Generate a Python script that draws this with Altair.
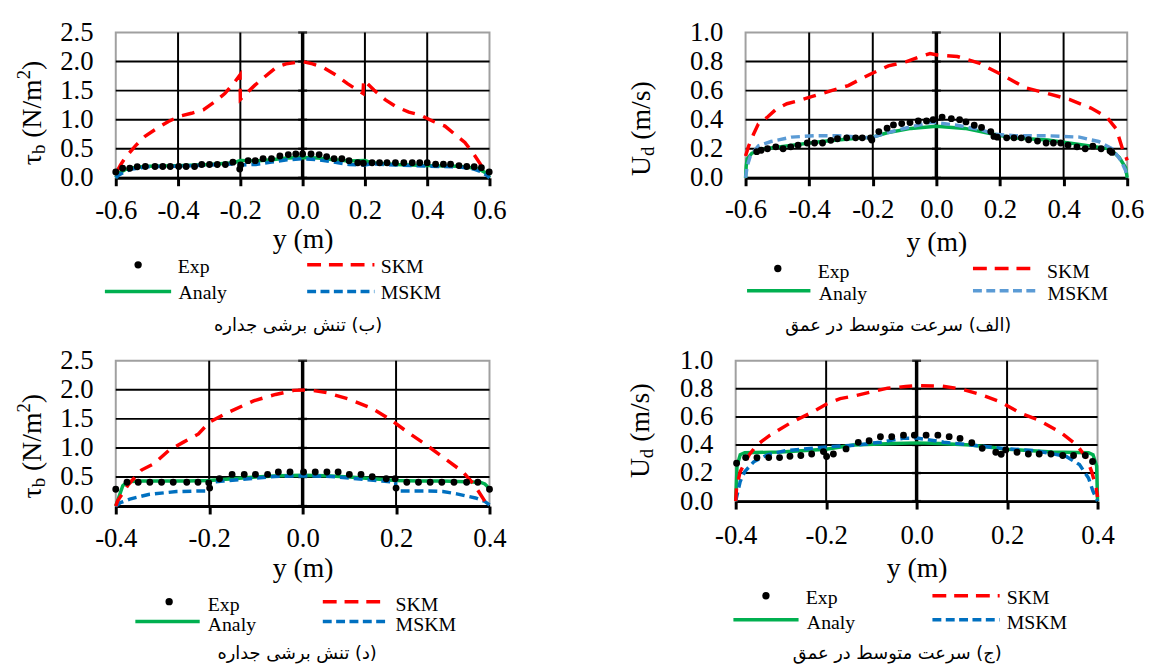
import altair as alt
import pandas as pd

SERIF = "Liberation Serif"
ARABIC = "DejaVu Sans"

RED = "#FF0000"
GREEN = "#00B050"

# ---------------- Panel (ب): wall shear stress, 1.2 m wide ----------------
a_exp_y = [-0.600, -0.578, -0.555, -0.531, -0.505, -0.474, -0.449, -0.425, -0.398, -0.374,
           -0.347, -0.324, -0.299, -0.274, -0.248, -0.224, -0.202, -0.199, -0.175, -0.152,
           -0.127, -0.100, -0.073, -0.046, -0.022, 0.000, 0.027, 0.053, 0.077, 0.101,
           0.126, 0.149, 0.177, 0.195, 0.223, 0.247, 0.271, 0.298, 0.325, 0.352,
           0.376, 0.400, 0.427, 0.452, 0.475, 0.502, 0.527, 0.551, 0.574, 0.599]
a_exp_v = [0.10, 0.165, 0.165, 0.19, 0.195, 0.195, 0.195, 0.195, 0.195, 0.195,
           0.195, 0.23, 0.23, 0.23, 0.23, 0.27, 0.15, 0.22, 0.295, 0.295,
           0.33, 0.33, 0.375, 0.40, 0.41, 0.41, 0.41, 0.40, 0.365, 0.33,
           0.33, 0.295, 0.26, 0.25, 0.26, 0.26, 0.26, 0.26, 0.26, 0.26,
           0.26, 0.26, 0.235, 0.235, 0.235, 0.21, 0.195, 0.19, 0.175, 0.10]
a_skm_y = [-0.595, -0.585, -0.569, -0.537, -0.505, -0.474, -0.431, -0.394, -0.357, -0.319,
           -0.282, -0.250, -0.218, -0.201, -0.200, -0.154, -0.128, -0.085, -0.053, 0.000,
           0.032, 0.069, 0.106, 0.144, 0.176, 0.194, 0.196, 0.229, 0.266, 0.298,
           0.341, 0.378, 0.420, 0.457, 0.495, 0.521, 0.553, 0.574, 0.595]
a_skm_v = [0.12, 0.22, 0.35, 0.55, 0.72, 0.83, 0.97, 1.06, 1.11, 1.17,
           1.31, 1.45, 1.65, 1.77, 1.35, 1.59, 1.71, 1.90, 1.96, 2.00,
           1.96, 1.89, 1.77, 1.62, 1.51, 1.45, 1.68, 1.51, 1.34, 1.23,
           1.13, 1.08, 0.97, 0.89, 0.72, 0.61, 0.38, 0.21, 0.10]
a_ana_y = [-0.600, -0.590, -0.570, -0.550, -0.500, -0.400, -0.300, -0.220, -0.200, -0.150,
           -0.100, -0.050, 0.000, 0.050, 0.100, 0.150, 0.200, 0.220, 0.300, 0.400,
           0.500, 0.550, 0.570, 0.590, 0.600]
a_ana_v = [0.00, 0.08, 0.14, 0.17, 0.20, 0.21, 0.23, 0.26, 0.30, 0.29,
           0.31, 0.34, 0.35, 0.34, 0.31, 0.29, 0.30, 0.26, 0.23, 0.21,
           0.20, 0.17, 0.14, 0.08, 0.00]
a_msk_y = a_ana_y
a_msk_v = [0.00, 0.05, 0.11, 0.15, 0.19, 0.20, 0.22, 0.24, 0.22, 0.23,
           0.27, 0.31, 0.33, 0.31, 0.27, 0.23, 0.22, 0.24, 0.22, 0.20,
           0.19, 0.15, 0.11, 0.05, 0.00]

# ---------------- Panel (الف): depth-averaged velocity, 1.2 m wide ----------------
b_exp_y = [-0.565, -0.551, -0.531, -0.505, -0.482, -0.458, -0.435, -0.406, -0.383, -0.358,
           -0.332, -0.311, -0.282, -0.254, -0.233, -0.207, -0.203, -0.181, -0.155, -0.135,
           -0.109, -0.083, -0.057, -0.031, -0.010, 0.018, 0.047, 0.073, 0.093, 0.119,
           0.142, 0.171, 0.181, 0.192, 0.221, 0.244, 0.267, 0.290, 0.318, 0.345,
           0.368, 0.391, 0.414, 0.442, 0.468, 0.492, 0.518, 0.546, 0.552]
b_exp_v = [0.18, 0.19, 0.20, 0.213, 0.20, 0.213, 0.225, 0.24, 0.24, 0.24,
           0.258, 0.269, 0.275, 0.275, 0.275, 0.275, 0.26, 0.318, 0.342, 0.364,
           0.373, 0.38, 0.391, 0.391, 0.40, 0.418, 0.407, 0.40, 0.385, 0.362,
           0.347, 0.318, 0.285, 0.28, 0.275, 0.275, 0.275, 0.262, 0.253, 0.24,
           0.24, 0.24, 0.225, 0.213, 0.20, 0.218, 0.20, 0.185, 0.175]
b_skm_y = [-0.600, -0.590, -0.575, -0.560, -0.530, -0.505, -0.470, -0.435, -0.390, -0.330,
           -0.277, -0.208, -0.151, -0.094, -0.049, -0.020, 0.003, 0.020, 0.066, 0.134,
           0.202, 0.280, 0.350, 0.418, 0.486, 0.535, 0.566, 0.585, 0.595, 0.600]
b_skm_v = [0.15, 0.22, 0.30, 0.37, 0.42, 0.47, 0.51, 0.53, 0.56, 0.60,
           0.635, 0.713, 0.77, 0.80, 0.835, 0.855, 0.845, 0.842, 0.835, 0.79,
           0.713, 0.62, 0.58, 0.54, 0.48, 0.42, 0.335, 0.20, 0.15, 0.12]
b_ana_y = [-0.600, -0.598, -0.595, -0.580, -0.540, -0.470, -0.360, -0.260, -0.200, -0.155,
           -0.080, 0.000, 0.090, 0.180, 0.240, 0.350, 0.450, 0.545, 0.575, 0.595, 0.600]
b_ana_v = [0.00, 0.08, 0.13, 0.17, 0.20, 0.22, 0.25, 0.27, 0.28, 0.31,
           0.34, 0.355, 0.34, 0.30, 0.275, 0.26, 0.23, 0.20, 0.14, 0.07, 0.00]
b_msk_y = [-0.600, -0.595, -0.585, -0.560, -0.520, -0.456, -0.380, -0.310, -0.260, -0.207,
           -0.155, -0.083, -0.020, 0.000, 0.070, 0.140, 0.185, 0.244, 0.345, 0.450,
           0.510, 0.553, 0.580, 0.595, 0.600]
b_msk_v = [0.00, 0.08, 0.15, 0.22, 0.25, 0.28, 0.29, 0.29, 0.283, 0.275,
           0.31, 0.35, 0.38, 0.38, 0.36, 0.33, 0.30, 0.29, 0.29, 0.28,
           0.25, 0.20, 0.12, 0.05, 0.00]

# ---------------- Panel (د): wall shear stress, 0.8 m wide ----------------
c_exp_y = [-0.400, -0.376, -0.352, -0.327, -0.302, -0.277, -0.248, -0.224, -0.201, -0.199,
           -0.178, -0.151, -0.125, -0.101, -0.075, -0.052, -0.027, 0.002, 0.027, 0.052,
           0.076, 0.100, 0.125, 0.149, 0.179, 0.198, 0.200, 0.223, 0.248, 0.273,
           0.298, 0.324, 0.351, 0.375, 0.400]
c_exp_v = [0.29, 0.41, 0.41, 0.41, 0.41, 0.41, 0.41, 0.41, 0.40, 0.31,
           0.47, 0.545, 0.545, 0.545, 0.545, 0.586, 0.586, 0.586, 0.586, 0.586,
           0.586, 0.545, 0.545, 0.505, 0.47, 0.47, 0.31, 0.41, 0.41, 0.41,
           0.41, 0.41, 0.41, 0.41, 0.29]
c_skm_y = [-0.400, -0.396, -0.373, -0.345, -0.318, -0.286, -0.255, -0.223, -0.200, -0.160,
           -0.105, -0.058, -0.019, 0.013, 0.052, 0.099, 0.146, 0.186, 0.225, 0.265,
           0.304, 0.343, 0.367, 0.390, 0.400]
c_skm_v = [0.00, 0.09, 0.37, 0.62, 0.73, 0.96, 1.10, 1.24, 1.44, 1.61,
           1.81, 1.92, 1.99, 2.00, 1.95, 1.84, 1.69, 1.50, 1.27, 1.05,
           0.82, 0.59, 0.37, 0.085, 0.00]
c_ana_y = [-0.400, -0.385, -0.375, -0.350, -0.300, -0.250, -0.200, -0.150, -0.100, -0.050,
           0.000, 0.050, 0.100, 0.150, 0.200, 0.250, 0.300, 0.350, 0.380, 0.390, 0.400]
c_ana_v = [0.00, 0.35, 0.42, 0.43, 0.43, 0.43, 0.44, 0.47, 0.50, 0.52,
           0.53, 0.52, 0.50, 0.47, 0.44, 0.43, 0.43, 0.42, 0.41, 0.38, 0.30]
c_msk_y = [-0.400, -0.390, -0.370, -0.330, -0.270, -0.220, -0.200, -0.199, -0.170, -0.130,
           -0.060, 0.000, 0.060, 0.130, 0.170, 0.199, 0.200, 0.220, 0.270, 0.300,
           0.330, 0.370, 0.390, 0.400]
c_msk_v = [0.00, 0.06, 0.12, 0.20, 0.25, 0.26, 0.26, 0.41, 0.43, 0.46,
           0.51, 0.52, 0.51, 0.46, 0.43, 0.41, 0.26, 0.26, 0.26, 0.25,
           0.21, 0.14, 0.08, 0.02]

# ---------------- Panel (ج): depth-averaged velocity, 0.8 m wide ----------------
d_exp_y = [-0.398, -0.378, -0.353, -0.327, -0.303, -0.280, -0.256, -0.232, -0.206, -0.199,
           -0.184, -0.156, -0.129, -0.105, -0.080, -0.055, -0.029, -0.005, 0.021, 0.047,
           0.072, 0.096, 0.122, 0.145, 0.175, 0.187, 0.197, 0.222, 0.247, 0.271,
           0.297, 0.323, 0.347, 0.373, 0.389]
d_exp_v = [0.27, 0.31, 0.31, 0.31, 0.31, 0.32, 0.325, 0.336, 0.353, 0.318,
           0.336, 0.372, 0.419, 0.43, 0.459, 0.459, 0.47, 0.47, 0.47, 0.47,
           0.459, 0.447, 0.416, 0.376, 0.348, 0.334, 0.365, 0.348, 0.336, 0.336,
           0.336, 0.325, 0.325, 0.325, 0.282]
d_skm_y = [-0.400, -0.398, -0.390, -0.370, -0.353, -0.324, -0.280, -0.230, -0.200, -0.169,
           -0.136, -0.104, -0.064, -0.024, 0.004, 0.057, 0.097, 0.137, 0.186, 0.230,
           0.270, 0.318, 0.354, 0.376, 0.387, 0.397, 0.400]
d_skm_v = [0.00, 0.10, 0.21, 0.33, 0.40, 0.47, 0.555, 0.635, 0.69, 0.73,
           0.75, 0.775, 0.805, 0.816, 0.823, 0.819, 0.80, 0.764, 0.706, 0.625,
           0.577, 0.49, 0.40, 0.306, 0.21, 0.094, 0.03]
d_ana_y = [-0.400, -0.397, -0.390, -0.380, -0.300, -0.200, -0.140, -0.050, 0.000, 0.050,
           0.120, 0.200, 0.300, 0.380, 0.390, 0.398, 0.400]
d_ana_v = [0.00, 0.25, 0.33, 0.345, 0.35, 0.37, 0.40, 0.41, 0.415, 0.41,
           0.40, 0.37, 0.35, 0.345, 0.33, 0.25, 0.00]
d_msk_y = [-0.400, -0.390, -0.380, -0.360, -0.330, -0.290, -0.230, -0.185, -0.130, -0.080,
           -0.030, 0.000, 0.060, 0.120, 0.190, 0.260, 0.330, 0.360, 0.380, 0.390, 0.400]
d_msk_v = [0.00, 0.14, 0.21, 0.28, 0.33, 0.36, 0.376, 0.39, 0.40, 0.42,
           0.447, 0.45, 0.42, 0.40, 0.376, 0.36, 0.32, 0.26, 0.165, 0.07, 0.00]

# ---------------- tick labels / texts ----------------
xticks_12 = [-0.6, -0.4, -0.2, 0.0, 0.2, 0.4, 0.6]
xticks_08 = [-0.4, -0.2, 0.0, 0.2, 0.4]
yticks_tau = [0.0, 0.5, 1.0, 1.5, 2.0, 2.5]
yticks_u = [0.0, 0.2, 0.4, 0.6, 0.8, 1.0]
legend_names = ["Exp", "SKM", "Analy", "MSKM"]
RLM = "\u200f"
cap_a = RLM + "(ب) تنش برشی جداره"
cap_b = RLM + "(الف) سرعت متوسط در عمق"
cap_c = RLM + "(د) تنش برشی جداره"
cap_d = RLM + "(ج) سرعت متوسط در عمق"

ONE = alt.Data(values=[{"k": 0}])


def txt(s, x, y, size, align="left", angle=0, dx=0, dy=0, font=SERIF):
    return alt.Chart(ONE).mark_text(
        text=s, font=font, fontSize=size, align=align, baseline="middle",
        angle=angle, dx=dx, dy=dy, color="black"
    ).encode(x=alt.value(x), y=alt.value(y))


def seg(x1, x2, y, color, width, dash=None):
    kw = dict(color=color, strokeWidth=width)
    if dash:
        kw["strokeDash"] = dash
    return alt.Chart(ONE).mark_rule(**kw).encode(
        x=alt.value(x1), x2=alt.value(x2), y=alt.value(y))


def panel(p):
    xs = alt.Scale(domain=p["xdom"], nice=False, zero=False)
    ys = alt.Scale(domain=p["ydom"], nice=False, zero=False)
    xaxis = alt.Axis(
        values=p["xticks"],
        labelExpr="(datum.value < 0 ? '-' : '') + format(abs(datum.value), '.1f')",
        title="y (m)", titleFont=SERIF, titleFontSize=28, titleFontWeight="normal",
        titleColor="black", titlePadding=p["tp"],
        labelFont=SERIF, labelFontSize=27, labelColor="black", labelPadding=p["lp"],
        labelFlush=False, labelOverlap=False,
        domainColor="black", domainWidth=3, tickColor="black", tickWidth=3, tickSize=8,
        grid=False)
    yaxis = alt.Axis(
        values=p["yticks"], format=".1f", title=None, ticks=False, domain=False, grid=False,
        labelFont=SERIF, labelFontSize=27, labelColor="black", labelPadding=23,
        labelFlush=False, labelOverlap=False)
    X = lambda f: alt.X(f, scale=xs, axis=xaxis)
    Y = lambda f: alt.Y(f, scale=ys, axis=yaxis)

    xgrid = [t for t in p["xticks"] if abs(t) > 1e-9 and abs(t) < p["xdom"][1] - 1e-9]
    ygrid = [t for t in p["yticks"] if t > 1e-9 and t < p["ydom"][1] - 1e-9]

    layers = [
        alt.Chart(pd.DataFrame({"y": xgrid})).mark_rule(color="black", strokeWidth=2)
        .encode(x=X("y:Q")),
        alt.Chart(pd.DataFrame({"v": ygrid})).mark_rule(color="black", strokeWidth=2)
        .encode(y=Y("v:Q")),
        alt.Chart(pd.DataFrame({"y": [0.0]})).mark_rule(color="black", strokeWidth=3.5)
        .encode(x=X("y:Q")),
        alt.Chart(pd.DataFrame({"y": [0.0] * len(p["yticks"]), "v": p["yticks"]}))
        .mark_tick(orient="horizontal", color="black", size=9, thickness=2.5)
        .encode(x=X("y:Q"), y=Y("v:Q")),
    ]

    def line(yy, vv, color, width, dash=None):
        kw = dict(color=color, strokeWidth=width)
        if dash:
            kw["strokeDash"] = dash
        df = pd.DataFrame({"y": yy, "v": vv, "i": list(range(len(yy)))})
        return alt.Chart(df).mark_line(**kw).encode(x=X("y:Q"), y=Y("v:Q"), order="i:Q")

    layers.append(line(*p["ana"], GREEN, 3.5))
    layers.append(line(*p["msk"], p["blue"], 3.5, [9, 5]))
    layers.append(line(*p["skm"], RED, 3.5, [13, 9]))
    exp_df = pd.DataFrame({"y": p["exp"][0], "v": p["exp"][1]})
    layers.append(alt.Chart(exp_df).mark_circle(color="black", size=48, opacity=1)
                  .encode(x=X("y:Q"), y=Y("v:Q")))

    # legend (drawn below the plot)
    L = p["leg"]
    layers.append(alt.Chart(ONE).mark_circle(color="black", size=55, opacity=1)
                  .encode(x=alt.value(L["dot"][0]), y=alt.value(L["dot"][1])))
    layers.append(txt(legend_names[0], L["exp_t"][0], L["exp_t"][1], 20))
    layers.append(seg(L["skm"][0], L["skm"][1], L["skm"][2], RED, 3.5, [14, 8]))
    layers.append(txt(legend_names[1], L["skm_t"][0], L["skm_t"][1], 20))
    layers.append(seg(L["ana"][0], L["ana"][1], L["ana"][2], GREEN, 3.5))
    layers.append(txt(legend_names[2], L["ana_t"][0], L["ana_t"][1], 20))
    layers.append(seg(L["msk"][0], L["msk"][1], L["msk"][2], p["blue"], 3.5, [9, 4.5]))
    layers.append(txt(legend_names[3], L["msk_t"][0], L["msk_t"][1], 20))
    layers.append(txt(p["cap"], L["cap"][0], L["cap"][1], 18, align="center", font=ARABIC))

    # rotated y-axis title with sub/superscripts
    tx, ty = p["tx"], p["ty"]
    if p["kind"] == "tau":
        layers += [
            txt("τ", tx, ty, 28, align="right", angle=270),
            txt("b", tx, ty, 19, align="left", angle=270, dy=6),
            txt("(N/m", tx, ty, 28, align="left", angle=270, dx=16.5),
            txt("2", tx, ty, 19, align="left", angle=270, dx=75.6, dy=-9),
            txt(")", tx, ty, 28, align="left", angle=270, dx=85.1),
        ]
    else:
        layers += [
            txt("U", tx, ty, 28, align="right", angle=270),
            txt("d", tx, ty, 19, align="left", angle=270, dy=6),
            txt("(m/s)", tx, ty, 28, align="left", angle=270, dx=16.5),
        ]
    return alt.layer(*layers).properties(width=p["w"], height=p["h"])


PA = dict(kind="tau", xdom=[-0.6, 0.6], xticks=xticks_12, ydom=[0, 2.5], yticks=yticks_tau,
          w=378, h=147, exp=(a_exp_y, a_exp_v), skm=(a_skm_y, a_skm_v),
          ana=(a_ana_y, a_ana_v), msk=(a_msk_y, a_msk_v), blue="#0070C0",
          tx=-84, ty=123, lp=12, tp=2, cap=cap_a,
          leg=dict(dot=(22.6, 235), exp_t=(62.7, 237.5), skm=(193.6, 261.6, 235),
                   skm_t=(268, 237.5), ana=(-11, 56, 262), ana_t=(63.5, 263.5),
                   msk=(193.6, 261.6, 262), msk_t=(268, 263.5), cap=(184.4, 297)))
PB = dict(kind="u", xdom=[-0.6, 0.6], xticks=xticks_12, ydom=[0, 1.0], yticks=yticks_u,
          w=386, h=147, exp=(b_exp_y, b_exp_v), skm=(b_skm_y, b_skm_v),
          ana=(b_ana_y, b_ana_v), msk=(b_msk_y, b_msk_v), blue="#5B9BD5",
          tx=-105, ty=125, lp=11, tp=7, cap=cap_b,
          leg=dict(dot=(32.6, 238.7), exp_t=(72.9, 242), skm=(230, 296, 238.7),
                   skm_t=(304.8, 242), ana=(1.5, 65.6, 261.3), ana_t=(74, 265),
                   msk=(230, 296, 261.3), msk_t=(305.5, 265), cap=(154.4, 297)))
PC = dict(kind="tau", xdom=[-0.4, 0.4], xticks=xticks_08, ydom=[0, 2.5], yticks=yticks_tau,
          w=378, h=147, exp=(c_exp_y, c_exp_v), skm=(c_skm_y, c_skm_v),
          ana=(c_ana_y, c_ana_v), msk=(c_msk_y, c_msk_v), blue="#0070C0",
          tx=-84, ty=128, lp=12, tp=3, cap=cap_c,
          leg=dict(dot=(54, 243.7), exp_t=(93, 247), skm=(209.4, 274.5, 243.7),
                   skm_t=(283, 247), ana=(19.8, 84.9, 263.7), ana_t=(93, 267),
                   msk=(209.4, 274.5, 263.7), msk_t=(283, 267), cap=(183.4, 297)))
PD = dict(kind="u", xdom=[-0.4, 0.4], xticks=xticks_08, ydom=[0, 1.0], yticks=yticks_u,
          w=366, h=142, exp=(d_exp_y, d_exp_v), skm=(d_skm_y, d_skm_v),
          ana=(d_ana_y, d_ana_v), msk=(d_msk_y, d_msk_v), blue="#0070C0",
          tx=-95.5, ty=98.5, lp=14, tp=6, cap=cap_d,
          leg=dict(dot=(30.6, 237.7), exp_t=(70.9, 240), skm=(199, 267, 237.7),
                   skm_t=(274.2, 240), ana=(-2.3, 63.6, 262), ana_t=(72, 265),
                   msk=(199, 267, 262), msk_t=(274.2, 265), cap=(163.4, 297)))

top = alt.hconcat(panel(PA), panel(PB), spacing=121)
bottom = alt.hconcat(panel(PC), panel(PD), spacing=120)
chart = (
    alt.vconcat(top, bottom, spacing=10)
    .properties(padding={"left": 6, "top": 6, "right": 0, "bottom": 0}, background="white")
    .configure_view(stroke="#A0A0A0", strokeWidth=2)
)

chart.save("out.html", embed_options={"renderer": "svg", "actions": False})
